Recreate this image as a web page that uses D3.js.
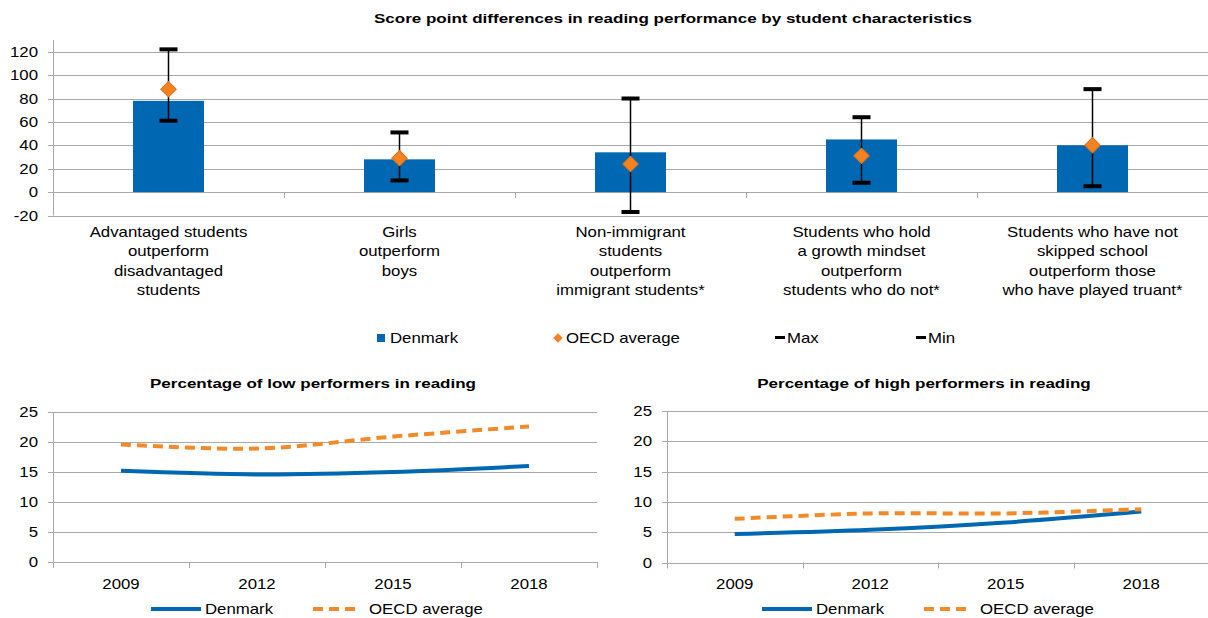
<!DOCTYPE html>
<html>
<head>
<meta charset="utf-8">
<title>Reading performance</title>
<script src="https://cdn.jsdelivr.net/npm/d3@7"></script>
<style>
  body { margin: 0; background: #fff; }
  text { font-family: "Liberation Sans", Arial, sans-serif; fill: #000; }
</style>
</head>
<body>
<svg width="1208" height="618"></svg>
<script>
// top chart data
var categories = [
  ["Advantaged students", "outperform", "disadvantaged", "students"],
  ["Girls", "outperform", "boys"],
  ["Non-immigrant", "students", "outperform", "immigrant students*"],
  ["Students who hold", "a growth mindset", "outperform", "students who do not*"],
  ["Students who have not", "skipped school", "outperform those", "who have played truant*"]
];
var denmarkGap = [78, 28, 34, 45, 40];
var oecdGap = [88, 29, 24, 31, 40];
var maxGap = [122, 51, 80, 64, 88];
var minGap = [61, 10, -17, 8, 5];
var gapTicks = [-20, 0, 20, 40, 60, 80, 100, 120];

// bottom charts data
var years = ["2009", "2012", "2015", "2018"];
var lowDenmark = [15.2, 14.6, 15.0, 16.0];
var lowOecd = [19.6, 18.9, 20.9, 22.6];
var highDenmark = [4.7, 5.4, 6.6, 8.4];
var highOecd = [7.2, 8.1, 8.1, 8.8];
var pctTicks = [0, 5, 10, 15, 20, 25];

var blue = "#0068b3", orange = "#f28a2a", grid = "#a9a9a9";
var svg = d3.select("svg");

// the source picture is stretched sideways, so text gets a horizontal scale
function label(g, x, y, s, anchor, bold) {
  return g.append("text")
    .attr("transform", "translate(" + x + "," + y + ") scale(" + (bold ? 1.31 : 1.2) + ",1)")
    .attr("text-anchor", anchor || "start")
    .style("font-size", bold ? "13px" : "14px")
    .style("font-weight", bold ? "bold" : "normal")
    .text(s);
}

// ---------- top chart ----------
var x = d3.scaleBand().domain(d3.range(categories.length)).range([53, 1208]);
var y = d3.scaleLinear().domain([-20, 130]).range([215.5, 40]);
var topG = svg.append("g");

label(topG, 673, 23, "Score point differences in reading performance by student characteristics", "middle", true);

topG.selectAll(".grid").data(gapTicks).enter().append("line")
  .attr("x1", 53).attr("x2", 1208)
  .attr("y1", function(d){ return Math.round(y(d)) + 0.5; })
  .attr("y2", function(d){ return Math.round(y(d)) + 0.5; })
  .attr("stroke", grid);

topG.append("line").attr("x1", 53.5).attr("x2", 53.5).attr("y1", y(130)).attr("y2", y(-20))
  .attr("stroke", grid);
topG.selectAll(".ytick").data(gapTicks).enter().append("line")
  .attr("x1", 48).attr("x2", 53)
  .attr("y1", function(d){ return Math.round(y(d)) + 0.5; })
  .attr("y2", function(d){ return Math.round(y(d)) + 0.5; })
  .attr("stroke", grid);
gapTicks.forEach(function(d){ label(topG, 38, y(d) + 5, d, "end"); });

// category ticks on zero line
topG.selectAll(".xtick").data(d3.range(1, categories.length)).enter().append("line")
  .attr("x1", function(d){ return Math.round(x(d)) + 0.5; })
  .attr("x2", function(d){ return Math.round(x(d)) + 0.5; })
  .attr("y1", y(0)).attr("y2", y(0) + 6).attr("stroke", grid);

var bw = 71;
var gs = topG.selectAll(".cat").data(categories).enter().append("g")
  .attr("transform", function(d, i){ return "translate(" + (x(i) + x.bandwidth() / 2) + ",0)"; });

gs.append("rect")
  .attr("x", -bw / 2).attr("width", bw)
  .attr("y", function(d, i){ return y(denmarkGap[i]); })
  .attr("height", function(d, i){ return y(0) - y(denmarkGap[i]); })
  .attr("fill", blue);

gs.append("line")
  .attr("x1", 0).attr("x2", 0)
  .attr("y1", function(d, i){ return y(maxGap[i]); })
  .attr("y2", function(d, i){ return y(minGap[i]); })
  .attr("stroke", "#000").attr("stroke-width", 1.5);
gs.append("rect").attr("x", -9).attr("width", 18).attr("height", 4)
  .attr("y", function(d, i){ return y(maxGap[i]) - 2; }).attr("fill", "#000");
gs.append("rect").attr("x", -9).attr("width", 18).attr("height", 4)
  .attr("y", function(d, i){ return y(minGap[i]) - 2; }).attr("fill", "#000");

gs.append("path")
  .attr("d", d3.symbol().type(d3.symbolSquare).size(120))
  .attr("transform", function(d, i){ return "translate(0," + y(oecdGap[i]) + ") rotate(45)"; })
  .attr("fill", "#f58220").attr("stroke", "#e0701a").attr("stroke-width", 1);

gs.each(function(lines){
  var g = d3.select(this);
  lines.forEach(function(l, k){ label(g, 0, 237 + k * 19.4, l, "middle"); });
});

// top legend
var lg = svg.append("g");
lg.append("rect").attr("x", 377).attr("y", 334).attr("width", 8).attr("height", 8).attr("fill", blue);
label(lg, 390, 343, "Denmark");
lg.append("path").attr("d", d3.symbol().type(d3.symbolSquare).size(45))
  .attr("transform", "translate(558,338) rotate(45)").attr("fill", "#f58220");
label(lg, 566, 343, "OECD average");
lg.append("rect").attr("x", 775).attr("y", 336).attr("width", 10).attr("height", 3).attr("fill", "#000");
label(lg, 787, 343, "Max");
lg.append("rect").attr("x", 916).attr("y", 336).attr("width", 10).attr("height", 3).attr("fill", "#000");
label(lg, 928, 343, "Min");

// ---------- bottom line charts ----------
function lineChart(opt) {
  var g = svg.append("g");
  var xs = d3.scaleBand().domain(years).range([opt.left, opt.left + 4 * opt.band]);
  var ys = d3.scaleLinear().domain([0, 25]).range([opt.bottom, opt.top]);

  label(g, opt.titleX, 388, opt.title, "middle", true);

  g.selectAll(".grid").data(pctTicks).enter().append("line")
    .attr("x1", opt.left).attr("x2", opt.right)
    .attr("y1", function(d){ return Math.round(ys(d)) + 0.5; })
    .attr("y2", function(d){ return Math.round(ys(d)) + 0.5; })
    .attr("stroke", grid);
  g.append("line").attr("x1", opt.left + 0.5).attr("x2", opt.left + 0.5)
    .attr("y1", ys(25)).attr("y2", ys(0) + 6).attr("stroke", grid);
  g.selectAll(".ytick").data(pctTicks).enter().append("line")
    .attr("x1", opt.left - 5).attr("x2", opt.left)
    .attr("y1", function(d){ return Math.round(ys(d)) + 0.5; })
    .attr("y2", function(d){ return Math.round(ys(d)) + 0.5; })
    .attr("stroke", grid);
  pctTicks.forEach(function(d){ label(g, opt.left - 15, ys(d) + 5, d, "end"); });
  g.selectAll(".xtick").data(d3.range(1, 5)).enter().append("line")
    .attr("x1", function(d){ return Math.round(opt.left + d * opt.band) + 0.5; })
    .attr("x2", function(d){ return Math.round(opt.left + d * opt.band) + 0.5; })
    .attr("y1", ys(0)).attr("y2", ys(0) + 6).attr("stroke", grid);
  years.forEach(function(d){ label(g, xs(d) + xs.bandwidth() / 2, 589, d, "middle"); });

  var line = d3.line()
    .x(function(d, i){ return xs(years[i]) + xs.bandwidth() / 2; })
    .y(function(d){ return ys(d); })
    .curve(d3.curveCatmullRom.alpha(0.5));
  g.append("path").attr("d", line(opt.dk)).attr("fill", "none")
    .attr("stroke", blue).attr("stroke-width", 4);
  g.append("path").attr("d", line(opt.oecd)).attr("fill", "none")
    .attr("stroke", orange).attr("stroke-width", 4).attr("stroke-dasharray", "10,6");

  // legend
  g.append("line").attr("x1", opt.leg1).attr("x2", opt.leg1 + 50).attr("y1", 609).attr("y2", 609)
    .attr("stroke", blue).attr("stroke-width", 4);
  label(g, opt.leg1 + 54, 614, "Denmark");
  g.append("line").attr("x1", opt.leg2).attr("x2", opt.leg2 + 46).attr("y1", 609).attr("y2", 609)
    .attr("stroke", orange).attr("stroke-width", 4).attr("stroke-dasharray", "10,6");
  label(g, opt.leg2 + 56, 614, "OECD average");
}

lineChart({ title: "Percentage of low performers in reading", titleX: 313,
  left: 53, band: 136, right: 597, top: 412, bottom: 562,
  dk: lowDenmark, oecd: lowOecd, leg1: 151, leg2: 313 });
lineChart({ title: "Percentage of high performers in reading", titleX: 924,
  left: 667, band: 135.5, right: 1208, top: 411, bottom: 562.5,
  dk: highDenmark, oecd: highOecd, leg1: 762, leg2: 924 });
</script>
</body>
</html>
